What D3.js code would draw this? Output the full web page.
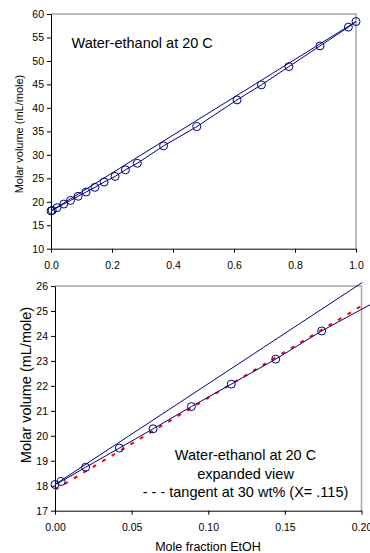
<!DOCTYPE html>
<html>
<head>
<meta charset="utf-8">
<script src="https://cdn.jsdelivr.net/npm/d3@7"></script>
<style>
  body { margin: 0; background: #fff; }
  svg { display: block; font-family: "Liberation Sans", Arial, sans-serif; }
</style>
</head>
<body>
<svg id="chart"></svg>
<script>
// mole fraction EtOH and molar volume (mL/mole)
const moleFraction = [0, 0.004, 0.020, 0.042, 0.064, 0.089, 0.115, 0.144, 0.174, 0.210,
	0.244, 0.283, 0.369, 0.478, 0.610, 0.690, 0.780, 0.882, 0.975, 1.0];
const molarVolume = [18.05, 18.17, 18.74, 19.51, 20.28, 21.17, 22.07, 23.07, 24.20, 25.4,
	26.8, 28.2, 31.9, 36.0, 41.7, 44.9, 48.8, 53.2, 57.2, 58.4];

// straight line pure water -> pure ethanol
const idealX = [0, 1];
const idealV = [18.05, 58.4];

// tangent at 30 wt% (X = .115)
const tangentX = [0, 0.2];
const tangentV = [17.84, 25.2];

const topXTicks = [0, 0.2, 0.4, 0.6, 0.8, 1.0];
const topYTicks = [10, 15, 20, 25, 30, 35, 40, 45, 50, 55, 60];
const bottomXTicks = [0, 0.05, 0.10, 0.15, 0.20];
const bottomYTicks = [17, 18, 19, 20, 21, 22, 23, 24, 25, 26];

const width = 370;
const height = 553;
const navy = "#000080";

const svg = d3.select("#chart").attr("width", width).attr("height", height);

const pts = (xs, vs) => xs.map((x, i) => ({ x: x, v: vs[i] }));

function drawPanel(p) {
	const x = d3.scaleLinear().domain(p.xDomain).range([p.left, p.right]);
	const y = d3.scaleLinear().domain(p.yDomain).range([p.bottom, p.top]);
	const g = svg.append("g");

	// grey frame on top and right
	g.append("path")
		.attr("d", `M${p.left},${p.top}H${p.right}V${p.bottom}`)
		.attr("fill", "none")
		.attr("stroke", "#a6a6a6")
		.attr("stroke-width", 1.5);

	const yAxis = g.append("g")
		.attr("transform", `translate(${p.left},0)`)
		.call(d3.axisLeft(y).tickValues(p.yTicks).tickFormat(d3.format("d"))
			.tickSize(4).tickSizeOuter(0).tickPadding(3));
	const xAxis = g.append("g")
		.attr("transform", `translate(0,${p.bottom})`)
		.call(d3.axisBottom(x).tickValues(p.xTicks).tickFormat(d3.format(p.xFormat))
			.tickSize(4).tickSizeOuter(0).tickPadding(8.5));
	[xAxis, yAxis].forEach(a => {
		a.attr("font-family", null).attr("font-size", null);
		a.selectAll("text").attr("fill", "#000").style("font-size", "10.5px");
		a.selectAll("line,path").attr("stroke", "#000");
	});

	g.append("text")
		.attr("transform", `translate(${p.yLabelX},${p.yLabelY}) rotate(-90)`)
		.attr("text-anchor", "middle")
		.style("font-size", p.yLabelSize)
		.text("Molar volume (mL/mole)");

	const clipId = "clip" + p.name;
	svg.append("clipPath").attr("id", clipId)
		.append("rect")
		.attr("x", 0).attr("y", p.clipTop)
		.attr("width", width).attr("height", height - p.clipTop);

	const marks = g.append("g").attr("clip-path", `url(#${clipId})`);
	const line = d3.line().x(d => x(d.x)).y(d => y(d.v));

	marks.append("path")
		.datum(pts(idealX, idealV))
		.attr("d", line)
		.attr("fill", "none")
		.attr("stroke", navy)
		.attr("stroke-width", 1);

	// red dashes sit under the data line
	if (p.tangent) {
		marks.append("path")
			.datum(pts(tangentX, tangentV))
			.attr("d", line)
			.attr("fill", "none")
			.attr("stroke", "#ff0000")
			.attr("stroke-width", 2)
			.attr("stroke-dasharray", "4,7");
	}

	const data = pts(moleFraction, molarVolume).filter(d => d.x <= p.dataMax);
	marks.append("path")
		.datum(data)
		.attr("d", line)
		.attr("fill", "none")
		.attr("stroke", navy)
		.attr("stroke-width", 1);

	marks.selectAll("circle")
		.data(data)
		.enter()
		.append("circle")
		.attr("cx", d => x(d.x))
		.attr("cy", d => y(d.v))
		.attr("r", 4)
		.attr("fill", "none")
		.attr("stroke", navy)
		.attr("stroke-width", 1);

	return g;
}

const topPanel = drawPanel({
	name: "top",
	left: 51, right: 356, top: 14, bottom: 248.7,
	xDomain: [0, 1], yDomain: [10, 60],
	xTicks: topXTicks, yTicks: topYTicks, xFormat: ".1f",
	yLabelX: 23, yLabelY: 134, yLabelSize: "11px",
	clipTop: 0, dataMax: 1, tangent: false
});

topPanel.append("text")
	.attr("x", 71.5)
	.attr("y", 47.5)
	.style("font-size", "14.5px")
	.text("Water-ethanol at 20 C");

const bottomPanel = drawPanel({
	name: "bottom",
	left: 55, right: 361.5, top: 286, bottom: 510.7,
	xDomain: [0, 0.2], yDomain: [17, 26],
	xTicks: bottomXTicks, yTicks: bottomYTicks, xFormat: ".2f",
	yLabelX: 31, yLabelY: 385, yLabelSize: "14.5px",
	clipTop: 282.5, dataMax: 0.21, tangent: true
});

const note = ["Water-ethanol at 20 C", "expanded view", "- - - tangent at 30 wt% (X= .115)"];
bottomPanel.append("g")
	.selectAll("text")
	.data(note)
	.enter()
	.append("text")
	.attr("x", 245.5)
	.attr("y", (d, i) => 460 + i * 18.6)
	.attr("text-anchor", "middle")
	.style("font-size", "14.5px")
	.text(d => d);

bottomPanel.append("text")
	.attr("x", 208)
	.attr("y", 550.5)
	.attr("text-anchor", "middle")
	.style("font-size", "12.5px")
	.text("Mole fraction EtOH");
</script>
</body>
</html>
